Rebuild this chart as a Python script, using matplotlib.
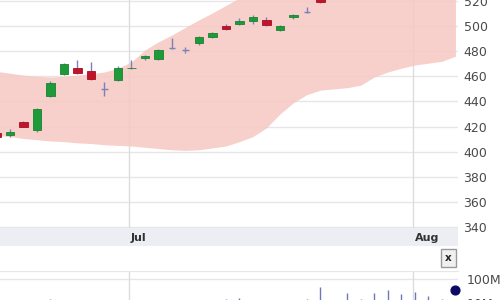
import numpy as np
import matplotlib
matplotlib.use("Agg")
import matplotlib.pyplot as plt

# daily candles (index = trading day)
opens  = [414.5, 413, 424, 417, 444, 462, 467, 464, 450, 457, 466.5, 475, 474, 482.5, 481,
          486.5, 491.5, 500, 502, 504, 505, 497, 507, 511, 523]
closes = [412, 416, 420, 434, 455, 470, 463, 458, 450, 466.5, 467, 476.5, 481, 482.5, 481,
          491, 494.5, 498, 504, 507, 501, 500, 509, 511, 519.5]
highs  = [415, 418, 424.5, 435, 456, 471, 473, 471.5, 455.5, 468, 473, 477, 482, 490.5, 483.5,
          492, 495.5, 501.5, 506.5, 509, 507, 501, 510, 515, 524]
lows   = [411, 412, 419.5, 416, 443.5, 461, 462, 457, 444, 456, 465.5, 473, 473, 481.5, 478.5,
          485, 490.5, 497, 501, 502, 500, 496, 506, 510.5, 518.5]

# bollinger band edges per trading day
band_upper = [464, 462.5, 461, 460, 459.5, 460, 461, 462, 463.5, 466.5, 471.5, 481, 487.5,
              493, 499, 505, 510.5, 516.5, 522.5, 528, 533, 537, 541, 544, 547, 550, 552,
              554, 556, 558, 559, 560, 561, 562, 563]
band_lower = [413, 412, 410.5, 409.5, 408.5, 408, 407, 406.5, 405.5, 405, 404.5, 403.5, 402.5,
              401.5, 401, 401.5, 403, 404.5, 408, 412, 419, 430, 439, 445.5, 449, 450, 451,
              453, 459.5, 463.5, 466.5, 469, 470.5, 472, 476]

# volume per trading day
volumes = [12e6, 12e6, 13e6, 12e6, 14e6, 12e6, 13e6, 12e6, 12e6, 13e6, 12e6, 12e6, 13e6,
           12e6, 12e6, 13e6, 12e6, 14e6, 16e6, 12e6, 13e6, 12e6, 12e6, 14e6, 46e6, 13e6,
           26e6, 14e6, 26e6, 35e6, 24e6, 30e6, 20e6, 14e6]
last_volume = 35e6

month_labels = ["Jul", "Aug"]
month_pos = [9.81, 30.85]
price_ticks = [340, 360, 380, 400, 420, 440, 460, 480, 500, 520]

W, H = 501, 300
fig = plt.figure(figsize=(W / 100, H / 100), dpi=100)
plot_w = 458 / W

def fy(px):
    return 1 - px / H

green = "#1e9a3a"
red = "#c3132b"
wick = "#7a82b8"
grid = "#e6e6e6"
txt = "#4a4a4a"

# ---- main price panel
ax = fig.add_axes([0, fy(228), plot_w, 228 / H])
n_band = len(band_upper)
ax.fill_between(range(n_band), band_lower, band_upper, color="#f6c9c4", alpha=0.88,
                lw=0, zorder=1)
for t in price_ticks:
    ax.axhline(t, color=grid, lw=1, zorder=0.5)
for m in month_pos:
    ax.axvline(m, color="#dcdcdc", lw=1, zorder=0.5)

x = np.arange(len(opens))
o = np.array(opens)
c = np.array(closes)
ax.vlines(x, lows, highs, color=wick, lw=1, zorder=2)
up = c > o
down = c < o
doji = c == o
ax.bar(x[up], (c - o)[up], bottom=o[up], width=0.62, color=green, edgecolor="#17832f",
       lw=0.6, zorder=3)
ax.bar(x[down], (o - c)[down], bottom=c[down], width=0.62, color=red, edgecolor="#a50f22",
       lw=0.6, zorder=3)
ax.hlines(o[doji], x[doji] - 0.25, x[doji] + 0.25, color=wick, lw=1, zorder=3)

ax.set_xlim(0.26, 34.19)
ax.set_ylim(339.2, 520.8)
ax.set_yticks(price_ticks)
ax.yaxis.tick_right()
ax.tick_params(axis="y", length=0, pad=4, labelsize=9, labelcolor=txt)
ax.set_xticks([])
for s in ax.spines.values():
    s.set_visible(False)

# ---- date band
axd = fig.add_axes([0, fy(246), plot_w, 18 / H])
axd.set_facecolor("#eceef4")
axd.set_xlim(0.26, 34.19)
axd.set_ylim(0, 1)
for m, lab in zip(month_pos, month_labels):
    axd.text(m + 0.15, 0.45, lab, fontsize=8, color="#333333", ha="left", va="center",
             fontweight="semibold")
axd.set_xticks([])
axd.set_yticks([])
for s in axd.spines.values():
    s.set_visible(False)

# close button
fig.text(448.5 / W, fy(258), "x", fontsize=7.5, fontweight="bold", ha="center", va="center",
         color="#222222",
         bbox=dict(boxstyle="square,pad=0.35", fc="#f0f0f0", ec="#9a9a9a", lw=1))

# ---- volume panel
axv = fig.add_axes([0, fy(320), plot_w, 49 / H])
axv.set_yscale("log")
axv.set_ylim(1.96e6, 2.15e8)
axv.set_xlim(0.26, 34.19)
axv.axhline(1e8, color=grid, lw=1, zorder=0.5)
for m in month_pos:
    axv.axvline(m, color="#dcdcdc", lw=1, zorder=0.5)
xv = np.arange(len(volumes))
axv.vlines(xv, 1e6, volumes, color="#6c76b8", lw=1, zorder=2)
axv.scatter([34.0], [last_volume], s=40, color="#0b0b66", zorder=4, clip_on=False)
axv.set_yticks([1e7, 1e8])
axv.set_yticklabels(["10M", "100M"])
axv.minorticks_off()
axv.yaxis.tick_right()
axv.tick_params(axis="y", length=0, pad=6, labelsize=9, labelcolor=txt)
axv.set_xticks([])
for s in axv.spines.values():
    s.set_visible(False)
axv.spines["top"].set_visible(True)
axv.spines["top"].set_color(grid)

fig.savefig("out.png", dpi=100)
